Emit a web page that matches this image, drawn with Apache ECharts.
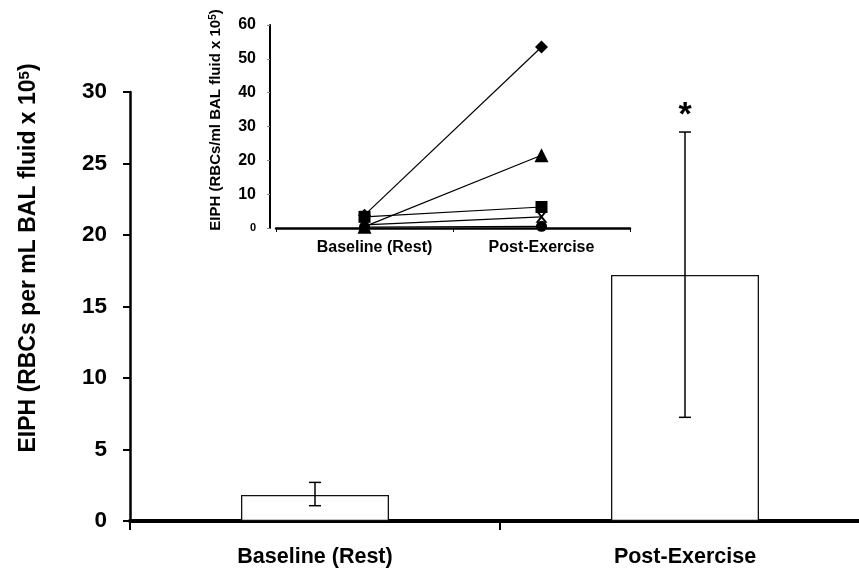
<!DOCTYPE html>
<html><head><meta charset="utf-8">
<script src="https://cdn.jsdelivr.net/npm/echarts@6/dist/echarts.min.js"></script>
<style>html,body{margin:0;padding:0;background:#fff}#c{width:859px;height:571px}</style>
</head><body><div id="c"></div>
<script>
// ---- main chart data ----
const categories = ['Baseline (Rest)', 'Post-Exercise'];
const meanValues = [1.82, 17.2];
const errLow = [1.07, 7.25];
const errHigh = [2.7, 27.2];
const sigMarks = ['', '*'];
const mainYMin = 0, mainYMax = 30, mainYStep = 5;

// ---- inset data (individual subjects) ----
const insetCategories = ['Baseline (Rest)', 'Post-Exercise'];
const subjDiamond = [3.8, 53.5];
const subjTriangle = [0.4, 21.5];
const subjSquare = [3.3, 6.2];
const subjCross = [0.9, 3.3];
const subjCircle = [0.3, 0.5];
const insetYMin = 0, insetYMax = 60, insetYStep = 10;

const FF = '"Liberation Sans", Arial, sans-serif';
const crossPath = 'path://M0,0 L2,0 L5,3.6 L8,0 L10,0 L6,5 L10,10 L8,10 L5,6.4 L2,10 L0,10 L4,5 Z';

const chart = echarts.init(document.getElementById('c'), null, {renderer: 'canvas'});

function lineSeries(name, data, symbol, size) {
  return {
    name: name, type: 'line', xAxisIndex: 1, yAxisIndex: 1, data: data,
    symbol: symbol, symbolSize: size, showSymbol: true,
    lineStyle: {color: '#000', width: 1.2},
    itemStyle: {color: '#000', borderColor: '#000', borderWidth: 0},
    animation: false, z: 5
  };
}

const insetLabelRich = {
  a: {fontSize: 16, fontWeight: 'bold', fontFamily: FF, color: '#000', padding: [0, 0, 0, 20]},
  b: {fontSize: 16, fontWeight: 'bold', fontFamily: FF, color: '#000'}
};

const option = {
  animation: false,
  backgroundColor: '#fff',
  grid: [
    {left: 130, top: 92, width: 740, height: 429, outerBoundsMode: 'none', containLabel: false},
    {left: 276, top: 25, width: 354, height: 203, outerBoundsMode: 'none', containLabel: false}
  ],
  xAxis: [
    {
      type: 'category', gridIndex: 0, data: categories, boundaryGap: true,
      axisLine: {lineStyle: {color: '#000', width: 4}},
      axisTick: {show: true, interval: 0, inside: false, length: 9, lineStyle: {color: '#000', width: 2}},
      axisLabel: {interval: 0, hideOverlap: false, color: '#000', fontFamily: FF, fontWeight: 'bold', fontSize: 21.5, margin: 25}
    },
    {
      type: 'category', gridIndex: 1, data: insetCategories, boundaryGap: true,
      axisLine: {lineStyle: {color: '#000', width: 2.5}},
      axisTick: {show: true, interval: 0, inside: false, length: 4, lineStyle: {color: '#000', width: 1}},
      axisLabel: {
        interval: 0, hideOverlap: false,
        color: '#000', fontFamily: FF, fontWeight: 'bold', fontSize: 16, margin: 12,
        formatter: (v, i) => i === 0 ? '{a|' + v + '}' : '{b|' + v + '}',
        rich: insetLabelRich
      }
    }
  ],
  yAxis: [
    {
      type: 'value', gridIndex: 0, min: mainYMin, max: mainYMax, interval: mainYStep,
      axisLine: {show: true, lineStyle: {color: '#000', width: 2.5}},
      axisTick: {show: true, inside: false, length: 7, lineStyle: {color: '#000', width: 2}},
      splitLine: {show: false},
      axisLabel: {color: '#000', fontFamily: FF, fontWeight: 'bold', fontSize: 22.5, margin: 23}
    },
    {
      type: 'value', gridIndex: 1, min: insetYMin, max: insetYMax, interval: insetYStep, offset: 6,
      axisLine: {show: true, lineStyle: {color: '#000', width: 2}},
      axisTick: {show: true, inside: false, length: 3, lineStyle: {color: '#888', width: 1}},
      splitLine: {show: false},
      axisLabel: {
        color: '#000', fontFamily: FF, fontWeight: 'bold', fontSize: 16, margin: 14,
        formatter: v => v === 0 ? '{s|0}' : String(v),
        rich: {s: {fontSize: 11, fontWeight: 'bold', fontFamily: FF, color: '#000'}}
      }
    }
  ],
  graphic: [
    {
      type: 'text', x: 29, y: 258, rotation: Math.PI / 2,
      style: {
        text: 'EIPH (RBCs per mL BAL fluid x 10{sup|5})',
        font: 'bold 23px ' + FF, fill: '#000',
        textAlign: 'center', textVerticalAlign: 'middle',
        rich: {sup: {fontSize: 15, fontWeight: 'bold', fontFamily: FF, verticalAlign: 'top', fill: '#000'}}
      }
    },
    {
      type: 'text', x: 216, y: 120, rotation: Math.PI / 2,
      style: {
        text: 'EIPH (RBCs/ml BAL fluid x 10{sup|5})',
        font: 'bold 15px ' + FF, fill: '#000',
        textAlign: 'center', textVerticalAlign: 'middle',
        rich: {sup: {fontSize: 10, fontWeight: 'bold', fontFamily: FF, verticalAlign: 'top', fill: '#000'}}
      }
    }
  ],
  series: [
    {
      type: 'bar', xAxisIndex: 0, yAxisIndex: 0, data: meanValues, barWidth: 148,
      itemStyle: {color: '#fff', borderColor: '#111', borderWidth: 1.3},
      z: 2
    },
    {
      type: 'custom', xAxisIndex: 0, yAxisIndex: 0, z: 3,
      data: categories.map((c, i) => [i, errLow[i], errHigh[i]]),
      renderItem: function (params, api) {
        const lo = api.coord([api.value(0), api.value(1)]);
        const hi = api.coord([api.value(0), api.value(2)]);
        const hw = 6;
        const st = {stroke: '#000', lineWidth: 1.5};
        const children = [
          {type: 'line', shape: {x1: lo[0], y1: lo[1], x2: hi[0], y2: hi[1]}, style: st},
          {type: 'line', shape: {x1: lo[0] - hw, y1: lo[1], x2: lo[0] + hw, y2: lo[1]}, style: st},
          {type: 'line', shape: {x1: hi[0] - hw, y1: hi[1], x2: hi[0] + hw, y2: hi[1]}, style: st}
        ];
        const m = sigMarks[params.dataIndex];
        if (m) {
          children.push({type: 'text', x: hi[0], y: hi[1] - 16,
            style: {text: m, font: 'bold 34px ' + FF, fill: '#000', textAlign: 'center', textVerticalAlign: 'middle'}});
        }
        return {type: 'group', children: children};
      }
    },
    lineSeries('Subject A', subjCircle, 'circle', 11),
    lineSeries('Subject B', subjCross, crossPath, 12),
    lineSeries('Subject C', subjSquare, 'rect', 12),
    lineSeries('Subject D', subjTriangle, 'triangle', 14),
    lineSeries('Subject E', subjDiamond, 'diamond', 13)
  ]
};
chart.setOption(option);
</script>
</body></html>
